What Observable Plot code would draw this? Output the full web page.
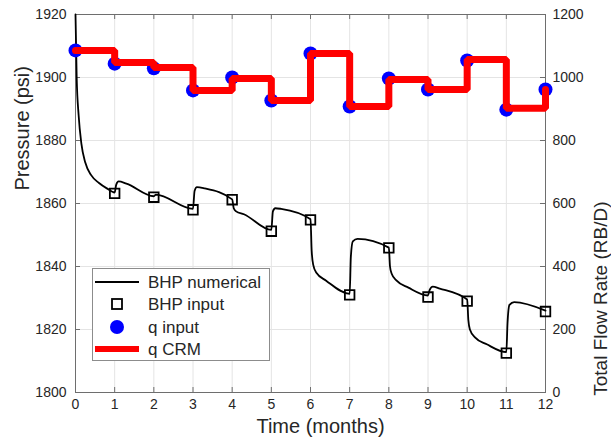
<!DOCTYPE html>
<html><head><meta charset="utf-8">
<script src="https://cdn.jsdelivr.net/npm/d3@7"></script>
<script src="https://cdn.jsdelivr.net/npm/@observablehq/plot@0.6"></script>
<style>
body{margin:0;background:#fff;}
#wrap{position:relative;width:611px;height:446px;font-family:"Liberation Sans",Arial,sans-serif;}
#legend{position:absolute;left:92px;top:268px;}
</style></head>
<body><div id="wrap"><div id="chart"></div><div id="legend"></div></div>
<script>
// ---- data ----
const monthTicks = [0,1,2,3,4,5,6,7,8,9,10,11,12];
const pressureTicks = [1800,1820,1840,1860,1880,1900,1920];
const rateTicks = [0,200,400,600,800,1000,1200];

const qInputTime = [0,1,2,3,4,5,6,7,8,9,10,11,12];
const qInput = [1086,1044,1029,959,1000,927,1076,908,997,962,1054,898,962];

const crmTime = [0,1,2,3,4,5,6,7,8,9,10,11,12];
const qCRM = [1086,1048,1032,959,997,927,1076,908,994,962,1057,902,962];

const bhpInputTime = [1,2,3,4,5,6,7,8,9,10,11,12];
const bhpInput = [1863.2,1862.0,1858.0,1861.2,1851.2,1854.8,1831.0,1845.9,1830.3,1829.0,1812.5,1825.7];

const bhpNumTime = [0,0.03,0.08,0.15,0.25,0.4,0.6,0.8,1.0,
  1.04,1.1,1.3,2.0,2.05,3.0,
  3.04,3.1,3.3,4.0,
  4.04,4.1,4.3,5.0,
  5.04,5.1,5.25,6.0,
  6.03,6.07,6.15,6.4,7.0,
  7.03,7.08,7.2,8.0,
  8.03,8.07,8.2,8.5,9.0,
  9.04,9.12,9.3,10.0,
  10.03,10.07,10.2,10.5,11.0,
  11.03,11.08,11.2,12.0];
const bhpNum = [1920,1900,1888,1879,1873,1869,1866.5,1864.8,1863.5,
  1866,1867,1866.3,1862.3,1862.8,1858.3,
  1864,1865.2,1864.8,1861.3,
  1858.5,1857.5,1856.6,1851.6,
  1857.5,1858.5,1858.3,1855,
  1845,1840.5,1838,1835.5,1831.3,
  1843,1848,1848.8,1846,
  1840,1837.8,1835.5,1833.3,1830.8,
  1832.5,1833.6,1833,1829.5,
  1823,1820,1817.5,1815.3,1812.8,
  1822,1827.8,1828.7,1826];

// rate (RB/D) shares the pressure scale: 1800 psi <-> 0, 1920 psi <-> 1200
const rateToP = q => 1800 + q / 10;

const bhpNumData = bhpNumTime.map((t,i)=>({t, p: bhpNum[i]}));
const bhpInData = bhpInputTime.map((t,i)=>({t, p: bhpInput[i]}));
const qInData = qInputTime.map((t,i)=>({t, p: rateToP(qInput[i])}));
const crmData = crmTime.map((t,i)=>({t, p: rateToP(qCRM[i])}));

const axisColor = "#6e6e6e";
const textColor = "#262626";
const gridColor = "#e4e4e4";

const chart = Plot.plot({
  width: 611, height: 446,
  marginLeft: 75, marginRight: 66, marginTop: 14, marginBottom: 54,
  style: {fontFamily: '"Liberation Sans", Arial, sans-serif', color: textColor, background: "white"},
  x: {domain: [0, 12]},
  y: {domain: [1800, 1920]},
  marks: [
    Plot.gridX(monthTicks, {stroke: gridColor, strokeOpacity: 1}),
    Plot.gridY(pressureTicks, {stroke: gridColor, strokeOpacity: 1}),
    Plot.frame({stroke: axisColor}),
    Plot.tickX(monthTicks, {x: d => d, insetTop: 373, stroke: axisColor}),
    Plot.tickX(monthTicks, {x: d => d, insetBottom: 373, stroke: axisColor}),
    Plot.tickY(pressureTicks, {y: d => d, insetRight: 465, stroke: axisColor}),
    Plot.tickY(pressureTicks, {y: d => d, insetLeft: 465, stroke: axisColor}),
    Plot.axisX(monthTicks, {tickSize: 0, tickPadding: 7, fontSize: 14, label: null, fill: textColor, tickFormat: d => String(d)}),
    Plot.axisY(pressureTicks, {anchor: "left", tickSize: 0, tickPadding: 9, fontSize: 14, label: null, fill: textColor, tickFormat: d => String(d)}),
    Plot.axisY(rateTicks.map(rateToP), {anchor: "right", tickSize: 0, tickPadding: 7, fontSize: 14, label: null, fill: textColor,
      tickFormat: p => String(Math.round((p - 1800) * 10))}),
    Plot.text(["Time (months)"], {frameAnchor: "bottom", dy: 40, dx: 10, fontSize: 20, fill: textColor}),
    Plot.text(["Pressure (psi)"], {frameAnchor: "left", rotate: -90, dx: -53, dy: -13, fontSize: 20, fill: textColor}),
    Plot.text(["Total Flow Rate (RB/D)"], {frameAnchor: "right", rotate: -90, dx: 55, dy: -2, fontSize: 19, fill: textColor}),
    Plot.line(bhpNumData, {x: "t", y: "p", stroke: "black", strokeWidth: 1.8, curve: "monotone-x"}),
    Plot.dot(bhpInData, {x: "t", y: "p", symbol: "square", r: 5.4, stroke: "black", strokeWidth: 1.8, fill: "none"}),
    Plot.dot(qInData, {x: "t", y: "p", r: 7, fill: "#0000ff", stroke: "none"}),
    Plot.line(crmData, {x: "t", y: "p", stroke: "#ff0000", strokeWidth: 7, curve: "step-after", strokeLinejoin: "miter"})
  ]
});
document.getElementById("chart").append(chart);

// ---- legend ----
const legendItems = ["BHP numerical", "BHP input", "q input", "q CRM"];
const lg = d3.select("#legend").append("svg").attr("width", 178).attr("height", 93)
  .style("font-family", '"Liberation Sans", Arial, sans-serif');
lg.append("rect").attr("x", 0.5).attr("y", 0.5).attr("width", 177).attr("height", 92)
  .attr("fill", "white").attr("stroke", "#8c8c8c");
const rowY = [14, 36, 59, 81];
legendItems.forEach((name, i) => {
  const y = rowY[i];
  if (i === 0) lg.append("line").attr("x1", 3).attr("x2", 47).attr("y1", y).attr("y2", y).attr("stroke", "black").attr("stroke-width", 1.8);
  if (i === 1) lg.append("rect").attr("x", 20).attr("y", y - 5).attr("width", 10).attr("height", 10).attr("fill", "none").attr("stroke", "black").attr("stroke-width", 1.8);
  if (i === 2) lg.append("circle").attr("cx", 25).attr("cy", y).attr("r", 7).attr("fill", "#0000ff");
  if (i === 3) lg.append("line").attr("x1", 3).attr("x2", 47).attr("y1", y).attr("y2", y).attr("stroke", "#ff0000").attr("stroke-width", 6);
  lg.append("text").attr("x", 56).attr("y", y).attr("dy", "0.35em").attr("font-size", 17).attr("fill", textColor).text(name);
});
</script>
</body></html>
